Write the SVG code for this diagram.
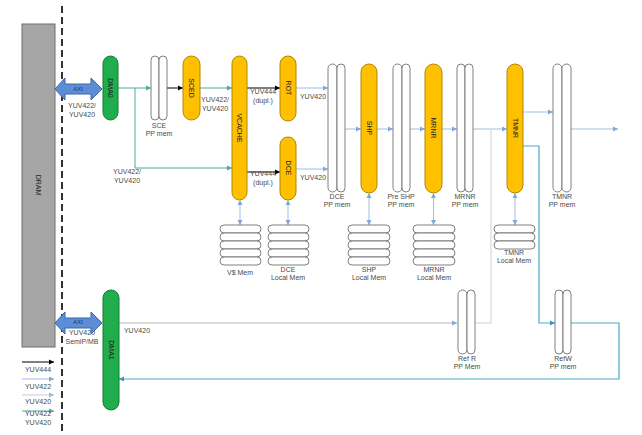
<svg xmlns="http://www.w3.org/2000/svg" width="642" height="435" viewBox="0 0 642 435">
<style>
.t{font-family:"Liberation Sans",Arial,sans-serif;font-size:7px;fill:#4a4a4a;text-anchor:middle}
.n{font-family:"Liberation Sans",Arial,sans-serif;font-size:7px;fill:#222;text-anchor:middle;dominant-baseline:central}
.y{fill:#ffc000;stroke:#b38600;stroke-width:1}
.g{fill:#1fae4b;stroke:#137a34;stroke-width:1}
.pp{fill:#fff;stroke:#606060;stroke-width:0.8}
.axi{fill:#5b8ed6;stroke:#3a66a8;stroke-width:1}
.k{fill:none;stroke:#000;stroke-width:1}
.tl{fill:none;stroke:#4fa89e;stroke-width:1}
.lb{fill:none;stroke:#9dbfe4;stroke-width:1}
.gr{fill:none;stroke:#cfcfcf;stroke-width:1.6}
.cy{fill:none;stroke:#4aa9c2;stroke-width:1.2}
.lg{fill:none;stroke:#bccde2;stroke-width:1}
</style>
<defs>
<marker id="ak" markerWidth="6" markerHeight="6" refX="5" refY="3" orient="auto" markerUnits="userSpaceOnUse"><path d="M0,0.5 L5,3 L0,5.5 z" fill="#000"/></marker>
<marker id="at" markerWidth="6" markerHeight="6" refX="5" refY="3" orient="auto" markerUnits="userSpaceOnUse"><path d="M0,0.5 L5,3 L0,5.5 z" fill="#4fa89e"/></marker>
<marker id="ab" markerWidth="6" markerHeight="6" refX="5" refY="3" orient="auto" markerUnits="userSpaceOnUse"><path d="M0,0.5 L5,3 L0,5.5 z" fill="#7fa8d8"/></marker>
<marker id="abs" markerWidth="6" markerHeight="6" refX="1" refY="3" orient="auto" markerUnits="userSpaceOnUse"><path d="M5,0.5 L0,3 L5,5.5 z" fill="#7fa8d8"/></marker>
<marker id="ag" markerWidth="6" markerHeight="6" refX="5" refY="3" orient="auto" markerUnits="userSpaceOnUse"><path d="M0,0.5 L5,3 L0,5.5 z" fill="#a8b8cc"/></marker>
<marker id="ac" markerWidth="6" markerHeight="6" refX="5" refY="3" orient="auto" markerUnits="userSpaceOnUse"><path d="M0,0.5 L5,3 L0,5.5 z" fill="#3a98b2"/></marker>
</defs>
<rect width="642" height="435" fill="#fff"/>

<g id="boundary"><line x1="62" y1="6" x2="62" y2="435" stroke="#000" stroke-width="1.6" stroke-dasharray="7 4"/></g>

<g id="connectors">
<path class="tl" d="M118,88 H151" marker-end="url(#at)"/>
<path class="tl" d="M135,88 V168 H232" marker-end="url(#at)"/>
<path class="k" d="M167,88 H183" marker-end="url(#ak)"/>
<path class="tl" d="M200,88 H232" marker-end="url(#at)"/>
<path class="k" d="M247,88 H280" marker-end="url(#ak)"/>
<path class="k" d="M247,172 H280" marker-end="url(#ak)"/>
<path class="lb" d="M296,88 H328" marker-end="url(#ab)"/>
<path class="lb" d="M296,169 H328" marker-end="url(#ab)"/>
<path class="lb" d="M345,129 H361" marker-end="url(#ab)"/>
<path class="lb" d="M377,129 H393" marker-end="url(#ab)"/>
<path class="lb" d="M410,129 H425" marker-end="url(#ab)"/>
<path class="lb" d="M442,129 H457" marker-end="url(#ab)"/>
<path class="lb" d="M473,129 H507" marker-end="url(#ab)"/>
<path class="lb" d="M523,112 H553" marker-end="url(#ab)"/>
<path class="lb" d="M571,129 H618" marker-end="url(#ab)"/>
<path class="cy" d="M523,146 H539 V323 H555" marker-end="url(#ac)"/>
<path class="cy" d="M571,323 H619 V379 H119" marker-end="url(#ac)"/>
<path class="gr" d="M119,323 H457" marker-end="url(#ab)"/>
<path class="gr" d="M475,323 H491 V129" style="stroke-width:1"/>
<path class="lb" d="M240,201 V225" marker-start="url(#abs)" marker-end="url(#ab)"/>
<path class="lb" d="M288,201 V225" marker-start="url(#abs)" marker-end="url(#ab)"/>
<path class="lb" d="M369,194 V225" marker-start="url(#abs)" marker-end="url(#ab)"/>
<path class="lb" d="M433.5,194 V225" marker-start="url(#abs)" marker-end="url(#ab)"/>
<path class="lb" d="M515,194 V225" marker-start="url(#abs)" marker-end="url(#ab)"/>
<text class="t" x="82" y="108">YUV422/</text><text class="t" x="82" y="117">YUV420</text>
<text class="t" x="127" y="174">YUV422/</text><text class="t" x="127" y="183">YUV420</text>
<text class="t" x="215" y="102">YUV422/</text><text class="t" x="215" y="111">YUV420</text>
<text class="t" x="263" y="94">YUV444</text><text class="t" x="263" y="103">(dupl.)</text>
<text class="t" x="263" y="176">YUV444</text><text class="t" x="263" y="185">(dupl.)</text>
<text class="t" x="313" y="99">YUV420</text>
<text class="t" x="313" y="180">YUV420</text>
<text class="t" x="82" y="335">YUV420</text><text class="t" x="82" y="344">SemiP/MB</text>
<text class="t" x="137" y="333">YUV420</text>
</g>

<g id="dram"><rect x="22" y="24" width="33" height="323" fill="#a6a6a6" stroke="#6e6e6e" stroke-width="1"/><text class="n" transform="translate(38.5,185) rotate(90)">DRAM</text></g>
<g id="axi0"><polygon class="axi" points="55,89 65,78 65,84 91,84 91,78 102,89 91,100 91,94 65,94 65,100"/><text class="n" x="78" y="89" style="fill:#1f3864;font-size:6px">AXI</text></g>
<g id="axi1"><polygon class="axi" points="55,323 65,312 65,318 91,318 91,312 102,323 91,334 91,328 65,328 65,334"/><text class="n" x="78" y="322" style="fill:#1f3864;font-size:6px">AXI</text></g>
<g id="dma0"><rect class="g" x="103" y="56" width="15" height="64" rx="7.5"/><text class="n" transform="translate(110.5,88) rotate(90)">DMA0</text></g>
<g id="dma1"><rect class="g" x="103" y="290" width="16" height="120" rx="8"/><text class="n" transform="translate(111,350) rotate(90)">DMA1</text></g>

<g id="sce-pp"><rect class="pp" x="151" y="56" width="8" height="64" rx="4"/><rect class="pp" x="159" y="56" width="8" height="64" rx="4"/><text class="t" x="159" y="128">SCE</text><text class="t" x="159" y="136">PP mem</text></g>
<g id="sced"><rect class="y" x="183" y="56" width="17" height="64" rx="8.5"/><text class="n" transform="translate(191.5,88) rotate(90)">SCED</text></g>
<g id="vcache"><rect class="y" x="232" y="56" width="15" height="144" rx="7.5"/><text class="n" transform="translate(239.5,128) rotate(90)">VCACHE</text></g>
<g id="rot"><rect class="y" x="280" y="56" width="16" height="65" rx="8"/><text class="n" transform="translate(288,88) rotate(90)">ROT</text></g>
<g id="dce"><rect class="y" x="280" y="137" width="16" height="63" rx="8"/><text class="n" transform="translate(288,168) rotate(90)">DCE</text></g>
<g id="dce-pp"><rect class="pp" x="328" y="64" width="9" height="128" rx="4.5"/><rect class="pp" x="337" y="64" width="8" height="128" rx="4"/><text class="t" x="337" y="199">DCE</text><text class="t" x="337" y="207">PP mem</text></g>
<g id="shp"><rect class="y" x="361" y="64" width="16" height="129" rx="8"/><text class="n" transform="translate(369,128) rotate(90)">SHP</text></g>
<g id="preshp-pp"><rect class="pp" x="393" y="64" width="9" height="128" rx="4.5"/><rect class="pp" x="402" y="64" width="8" height="128" rx="4"/><text class="t" x="401" y="199">Pre SHP</text><text class="t" x="401" y="207">PP mem</text></g>
<g id="mrnr"><rect class="y" x="425" y="64" width="17" height="129" rx="8.5"/><text class="n" transform="translate(433.5,128) rotate(90)">MRNR</text></g>
<g id="mrnr-pp"><rect class="pp" x="457" y="64" width="8" height="128" rx="4"/><rect class="pp" x="465" y="64" width="8" height="128" rx="4"/><text class="t" x="465" y="199">MRNR</text><text class="t" x="465" y="207">PP mem</text></g>
<g id="tmnr"><rect class="y" x="507" y="64" width="16" height="129" rx="8"/><text class="n" transform="translate(515,128) rotate(90)">TMNR</text></g>
<g id="tmnr-pp"><rect class="pp" x="553" y="64" width="9" height="128" rx="4.5"/><rect class="pp" x="562" y="64" width="9" height="128" rx="4.5"/><text class="t" x="562" y="199">TMNR</text><text class="t" x="562" y="207">PP mem</text></g>

<g id="vs-mem"><rect class="pp" x="220" y="225" width="41" height="8" rx="4"/><rect class="pp" x="220" y="233" width="41" height="8" rx="4"/><rect class="pp" x="220" y="241" width="41" height="8" rx="4"/><rect class="pp" x="220" y="249" width="41" height="8" rx="4"/><rect class="pp" x="220" y="257" width="41" height="8" rx="4"/><text class="t" x="240" y="275">V$ Mem</text></g>
<g id="dce-local"><rect class="pp" x="268" y="225" width="41" height="8" rx="4"/><rect class="pp" x="268" y="233" width="41" height="8" rx="4"/><rect class="pp" x="268" y="241" width="41" height="8" rx="4"/><rect class="pp" x="268" y="249" width="41" height="8" rx="4"/><rect class="pp" x="268" y="257" width="41" height="8" rx="4"/><text class="t" x="288" y="272">DCE</text><text class="t" x="288" y="280">Local Mem</text></g>
<g id="shp-local"><rect class="pp" x="348" y="225" width="42" height="8" rx="4"/><rect class="pp" x="348" y="233" width="42" height="8" rx="4"/><rect class="pp" x="348" y="241" width="42" height="8" rx="4"/><rect class="pp" x="348" y="249" width="42" height="8" rx="4"/><rect class="pp" x="348" y="257" width="42" height="8" rx="4"/><text class="t" x="369" y="272">SHP</text><text class="t" x="369" y="280">Local Mem</text></g>
<g id="mrnr-local"><rect class="pp" x="413" y="225" width="42" height="8" rx="4"/><rect class="pp" x="413" y="233" width="42" height="8" rx="4"/><rect class="pp" x="413" y="241" width="42" height="8" rx="4"/><rect class="pp" x="413" y="249" width="42" height="8" rx="4"/><rect class="pp" x="413" y="257" width="42" height="8" rx="4"/><text class="t" x="434" y="272">MRNR</text><text class="t" x="434" y="280">Local Mem</text></g>
<g id="tmnr-local"><rect class="pp" x="494" y="225" width="41" height="8" rx="4"/><rect class="pp" x="494" y="233" width="41" height="8" rx="4"/><rect class="pp" x="494" y="241" width="41" height="8" rx="4"/><text class="t" x="514" y="255">TMNR</text><text class="t" x="514" y="263">Local Mem</text></g>

<g id="refr-pp"><rect class="pp" x="458" y="290" width="9" height="64" rx="4.5"/><rect class="pp" x="467" y="290" width="8" height="64" rx="4"/><text class="t" x="467" y="361">Ref R</text><text class="t" x="467" y="369">PP Mem</text></g>
<g id="refw-pp"><rect class="pp" x="555" y="290" width="8" height="64" rx="4"/><rect class="pp" x="563" y="290" width="8" height="64" rx="4"/><text class="t" x="563" y="361">RefW</text><text class="t" x="563" y="369">PP mem</text></g>

<g id="legend">
<path class="k" d="M22,362 H54" marker-end="url(#ak)"/><text class="t" x="38" y="372">YUV444</text>
<path class="lb" d="M22,379 H54" marker-end="url(#ab)"/><text class="t" x="38" y="389">YUV422</text>
<path class="lg" d="M22,395 H54" marker-end="url(#ag)"/><text class="t" x="38" y="404">YUV420</text>
<path class="tl" d="M22,411 H54" marker-end="url(#at)"/><text class="t" x="38" y="416">YUV422</text><text class="t" x="38" y="425">YUV420</text>
</g>
</svg>
